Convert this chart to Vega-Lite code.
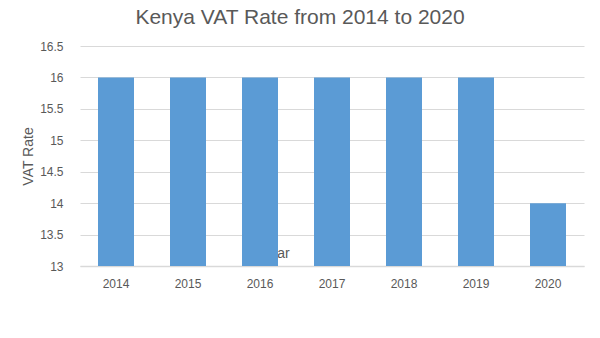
{
  "$schema": "https://vega.github.io/schema/vega-lite/v6.json",
  "autosize": "none",
  "width": 504,
  "height": 220,
  "padding": {"left": 80, "top": 46, "right": 16, "bottom": 72},
  "background": "white",
  "title": {
    "text": "Kenya VAT Rate from 2014 to 2020",
    "fontSize": 21,
    "font": "Liberation Sans",
    "fontWeight": "normal",
    "color": "#595959",
    "offset": 12,
    "dx": -32
  },
  "data": {
    "values": [
      {"Year": "2014", "VAT": 16},
      {"Year": "2015", "VAT": 16},
      {"Year": "2016", "VAT": 16},
      {"Year": "2017", "VAT": 16},
      {"Year": "2018", "VAT": 16},
      {"Year": "2019", "VAT": 16},
      {"Year": "2020", "VAT": 14}
    ]
  },
  "mark": {"type": "bar", "color": "#5B9BD5"},
  "encoding": {
    "x": {
      "field": "Year",
      "type": "nominal",
      "scale": {"paddingInner": 0.5, "paddingOuter": 0.25},
      "axis": {
        "title": "Year",
        "titleX": 195,
        "titleY": -20,
        "titleAlign": "center",
        "titleFontSize": 14,
        "titleFontWeight": "normal",
        "titleColor": "#595959",
        "titleFont": "Liberation Sans",
        "labelAngle": 0,
        "labelFontSize": 12,
        "labelColor": "#595959",
        "labelFont": "Liberation Sans",
        "labelPadding": 12,
        "ticks": false,
        "domainColor": "#D9D9D9",
        "domainWidth": 1.5,
        "grid": false
      }
    },
    "y": {
      "field": "VAT",
      "type": "quantitative",
      "scale": {"domain": [13, 16.5], "zero": false, "nice": false},
      "axis": {
        "title": "VAT Rate",
        "titleFontSize": 14,
        "titleFontWeight": "normal",
        "titleColor": "#595959",
        "titleFont": "Liberation Sans",
        "titlePadding": 4,
        "values": [13, 13.5, 14, 14.5, 15, 15.5, 16, 16.5],
        "format": "~g",
        "labelFontSize": 12,
        "labelColor": "#595959",
        "labelFont": "Liberation Sans",
        "labelPadding": 17,
        "ticks": false,
        "domain": false,
        "gridColor": "#D9D9D9",
        "gridWidth": 1
      }
    },
    "y2": {"datum": 13}
  },
  "config": {"view": {"stroke": null}}
}
